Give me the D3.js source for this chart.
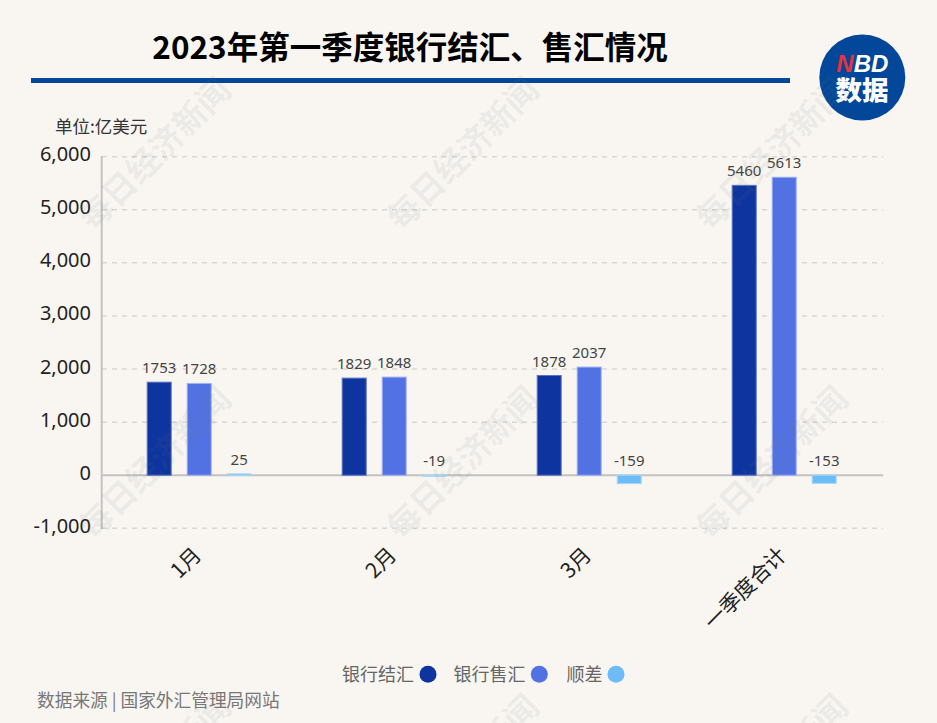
<!DOCTYPE html>
<html>
<head>
<meta charset="utf-8">
<style>
  html, body { margin: 0; padding: 0; background: #f9f6f2; }
  svg { display: block; }
  text { font-family: "Noto Sans CJK SC", "Noto Sans", sans-serif; }
</style>
</head>
<body>
<svg id="chart" width="937" height="723"></svg>
<script src="https://cdn.jsdelivr.net/npm/d3@7"></script>
<script>
const categories = ['1月', '2月', '3月', '一季度合计'];
const seriesNames = ['银行结汇', '银行售汇', '顺差'];
const jiehui = [1753, 1829, 1878, 5460];
const shouhui = [1728, 1848, 2037, 5613];
const shuncha = [25, -19, -159, -153];
const yTicks = [-1000, 0, 1000, 2000, 3000, 4000, 5000, 6000];
const colors = ['#0d349f', '#5272e4', '#6bbcf7'];
const edgeColors = ['#5a74bd', '#9db0f0', '#a5d6fa'];

const width = 937, height = 723;
const svg = d3.select('#chart');

svg.append('rect').attr('width', width).attr('height', height).attr('fill', '#f9f6f2');

const x = d3.scaleBand().domain(categories).range([101.7, 881.7]);
const y = d3.scaleLinear().domain([-1000, 6000]).range([528.3, 156.7]);
const inner = d3.scaleBand().domain(seriesNames).range([-60, 60]).paddingInner(0.375).paddingOuter(0.1875);

// grid
svg.append('g').selectAll('line').data(yTicks.filter(d => d !== 0)).enter().append('line')
  .attr('x1', 102).attr('x2', 883)
  .attr('y1', d => y(d)).attr('y2', d => y(d))
  .attr('stroke', '#dad8d4').attr('stroke-width', 1.5).attr('stroke-dasharray', '5 5');

// axes
svg.append('line').attr('x1', 101.7).attr('x2', 101.7).attr('y1', 156).attr('y2', 529)
  .attr('stroke', '#c4c2c0').attr('stroke-width', 2);
svg.append('line').attr('x1', 101).attr('x2', 883).attr('y1', y(0)).attr('y2', y(0))
  .attr('stroke', '#c4c2c0').attr('stroke-width', 2);

// bars
const series = [jiehui, shouhui, shuncha];
series.forEach((vals, s) => {
  const g = svg.append('g');
  g.selectAll('rect').data(vals).enter().append('rect')
    .attr('x', (d, i) => x(categories[i]) + x.bandwidth() / 2 + inner(seriesNames[s]) + 0.5)
    .attr('width', inner.bandwidth() - 1)
    .attr('y', d => y(Math.max(d, 0)))
    .attr('height', d => Math.abs(y(d) - y(0)))
    .attr('fill', colors[s])
    .attr('stroke', edgeColors[s])
    .attr('stroke-width', 1);
  g.selectAll('text').data(vals).enter().append('text')
    .attr('x', (d, i) => x(categories[i]) + x.bandwidth() / 2 + inner(seriesNames[s]) + inner.bandwidth() / 2)
    .attr('y', d => (d > 0 ? y(d) : y(0)) - 9)
    .attr('text-anchor', 'middle')
    .attr('fill', '#444')
    .style('font-family', '"Noto Sans", sans-serif')
    .style('font-size', '15px')
    .text(d => d);
});

svg.append('g').selectAll('text').data(yTicks).enter().append('text')
  .attr('x', 91).attr('y', d => y(d) - 2.5)
  .attr('dy', '0.35em')
  .attr('text-anchor', 'end')
  .attr('fill', '#222')
  .style('font-family', '"Noto Sans", sans-serif')
  .style('font-size', '20px')
  .text(d => d3.format(',')(d).replace('−', '-'));

svg.append('g').selectAll('text').data(categories).enter().append('text')
  .attr('transform', d => `translate(${x(d) + x.bandwidth() / 2 - 7},546) rotate(-45)`)
  .attr('text-anchor', 'end')
  .attr('dy', '0.7em')
  .attr('fill', '#222')
  .style('font-size', '21px')
  .text(d => d);

// title and rule
svg.append('text').attr('x', 410).attr('y', 59).attr('text-anchor', 'middle')
  .attr('fill', '#000').style('font-size', '31.5px').style('font-weight', 700)
  .text('2023年第一季度银行结汇、售汇情况');
svg.append('rect').attr('x', 31).attr('y', 78).attr('width', 759).attr('height', 5).attr('fill', '#02479a');

svg.append('text').attr('x', 55).attr('y', 133).attr('fill', '#333')
  .style('font-size', '17.5px').text('单位:亿美元');

// logo
const logo = svg.append('g');
logo.append('circle').attr('cx', 862.3).attr('cy', 77.5).attr('r', 43).attr('fill', '#02479a');
const nbd = logo.append('text').attr('x', 862.3).attr('y', 72).attr('text-anchor', 'middle')
  .style('font-family', '"Liberation Sans", sans-serif')
  .style('font-size', '24px').style('font-weight', 700).style('font-style', 'italic');
nbd.append('tspan').attr('fill', '#e8323c').text('N');
nbd.append('tspan').attr('fill', '#fff').text('BD');
logo.append('text').attr('x', 862).attr('y', 100).attr('text-anchor', 'middle')
  .attr('fill', '#fff').style('font-size', '26.5px').style('font-weight', 900).text('数据');

// legend
const legendLabelEnd = [414, 525.5, 602.5];
const legendDot = [428, 539.3, 616];
seriesNames.forEach((name, i) => {
  svg.append('text').attr('x', legendLabelEnd[i]).attr('y', 680.5).attr('text-anchor', 'end')
    .attr('fill', '#666').style('font-size', '18px').text(name);
  svg.append('circle').attr('cx', legendDot[i]).attr('cy', 674.3).attr('r', 8.5).attr('fill', colors[i]);
});

svg.append('text').attr('x', 37).attr('y', 707).attr('fill', '#777')
  .style('font-size', '17.7px').text('数据来源 | 国家外汇管理局网站');

// watermark goes over everything, it shows faintly on the bars too
const wmX = [155, 463, 772];
const wmY = [154, 463, 771];
const wmCenters = d3.cross(wmX, wmY);
svg.append('g').selectAll('text').data(wmCenters).enter().append('text')
  .attr('transform', d => `translate(${d[0]},${d[1]}) rotate(-45)`)
  .attr('text-anchor', 'middle')
  .attr('dy', '0.35em')
  .attr('fill', '#777')
  .attr('fill-opacity', 0.1)
  .style('font-size', '33px')
  .style('font-weight', 700)
  .text('每日经济新闻');
</script>
</body>
</html>
